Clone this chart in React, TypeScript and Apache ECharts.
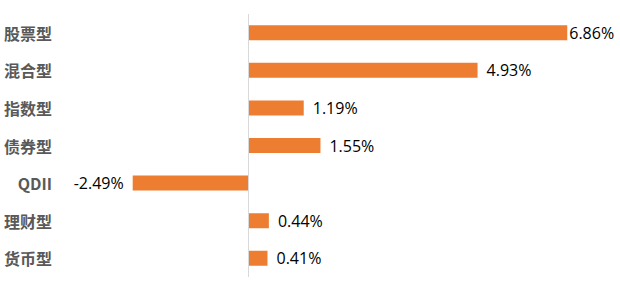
import React, { useEffect, useRef } from "react";
import * as echarts from "echarts";

const categories = ["股票型", "混合型", "指数型", "债券型", "QDII", "理财型", "货币型"];
const values = [6.86, 4.93, 1.19, 1.55, -2.49, 0.44, 0.41];

export default function App() {
  const ref = useRef<HTMLDivElement>(null);
  useEffect(() => {
    if (!ref.current) return;
    const chart = echarts.init(ref.current, null, { renderer: "svg" });
    const data = values.map((v, i) => ({
      value: v,
      label: {
        position: v < 0 ? "left" : "right",
        distance: i === 0 ? 2 : 9,
      },
    }));
    chart.setOption({
      animation: false,
      backgroundColor: "#ffffff",
      grid: { left: 109, right: 23, top: 14, bottom: 17, containLabel: false },
      xAxis: {
        type: "value",
        min: -3,
        max: 7.5,
        show: false,
      },
      yAxis: {
        type: "category",
        data: categories,
        inverse: true,
        axisLine: { show: false },
        axisTick: { show: false },
        splitLine: { show: false },
        axisLabel: {
          margin: 57,
          color: "#595959",
          fontSize: 16,
          fontWeight: "bold",
          fontFamily: "'Noto Sans CJK SC', 'Noto Sans', sans-serif",
        },
      },
      series: [
        {
          type: "bar",
          data,
          barWidth: 15,
          itemStyle: { color: "#ED7D31" },
          label: {
            show: true,
            formatter: (p: any) => p.value.toFixed(2) + "%",
            color: "#000000",
            fontSize: 16,
            fontFamily: "'Open Sans', 'Noto Sans', sans-serif",
          },
          markLine: {
            silent: true,
            symbol: "none",
            label: { show: false },
            lineStyle: { color: "#d9d9d9", width: 1, type: "solid" },
            data: [{ xAxis: 0 }],
          },
        },
      ],
    });
    return () => chart.dispose();
  }, []);
  return (
    <div
      ref={ref}
      style={{ position: "fixed", left: 0, top: 0, width: 620, height: 294 }}
    />
  );
}
